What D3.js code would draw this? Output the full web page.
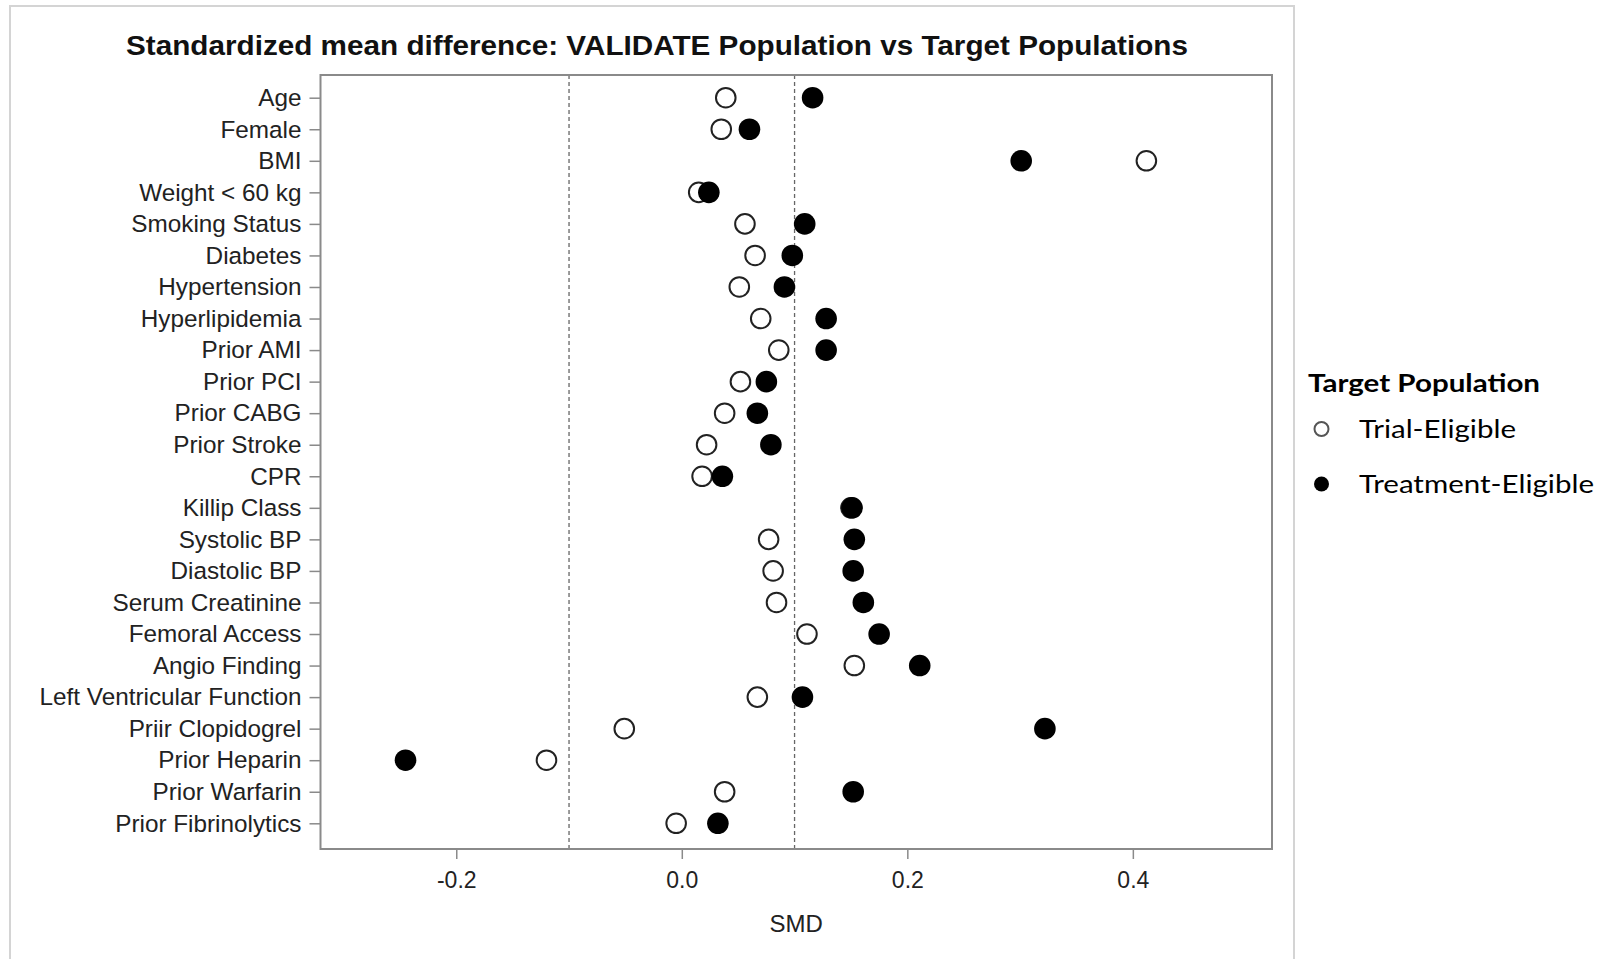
<!DOCTYPE html>
<html>
<head>
<meta charset="utf-8">
<script src="https://cdn.jsdelivr.net/npm/d3@7"></script>
<style>
  body { margin: 0; background: #fff; }
  text { font-family: "Liberation Sans", Arial, sans-serif; }
</style>
</head>
<body>
<div id="chart"></div>
<script>
var categories = ["Age", "Female", "BMI", "Weight < 60 kg", "Smoking Status", "Diabetes",
  "Hypertension", "Hyperlipidemia", "Prior AMI", "Prior PCI", "Prior CABG", "Prior Stroke",
  "CPR", "Killip Class", "Systolic BP", "Diastolic BP", "Serum Creatinine", "Femoral Access",
  "Angio Finding", "Left Ventricular Function", "Priir Clopidogrel", "Prior Heparin",
  "Prior Warfarin", "Prior Fibrinolytics"];

// Trial-Eligible (open) and Treatment-Eligible (filled)
var trialSMD = [0.039, 0.035, 0.412, 0.015, 0.056, 0.065, 0.051, 0.070, 0.086, 0.052, 0.038, 0.022,
  0.018, 0.150, 0.077, 0.081, 0.084, 0.111, 0.153, 0.067, -0.051, -0.120, 0.038, -0.005];
var treatmentSMD = [0.116, 0.060, 0.301, 0.024, 0.109, 0.098, 0.091, 0.128, 0.128, 0.075, 0.067, 0.079,
  0.036, 0.151, 0.153, 0.152, 0.161, 0.175, 0.211, 0.107, 0.322, -0.245, 0.152, 0.032];

var xTicks = [-0.2, 0.0, 0.2, 0.4];
var refLines = [-0.1, 0.1];
var legendLabels = ["Trial-Eligible", "Treatment-Eligible"];

var width = 1606, height = 959;
var frame = { left: 320.5, right: 1272, top: 75, bottom: 849 };

var svg = d3.select("#chart").append("svg")
  .attr("width", width)
  .attr("height", height);

// outer border
svg.append("rect")
  .attr("x", 10).attr("y", 6)
  .attr("width", 1284).attr("height", 960)
  .attr("fill", "none")
  .attr("stroke", "#d4d4d4")
  .attr("stroke-width", 2);

var x = d3.scaleLinear()
  .domain([-0.3204, 0.5234])
  .range([frame.left, frame.right]);

var y = d3.scalePoint()
  .domain(categories)
  .range([frame.top + 22.7, frame.bottom - 25.7]);

svg.append("text")
  .attr("x", 657)
  .attr("y", 55)
  .attr("text-anchor", "middle")
  .style("font-size", "28.5px")
  .style("font-weight", "bold")
  .attr("textLength", 1062)
  .attr("lengthAdjust", "spacingAndGlyphs")
  .attr("fill", "#111")
  .text("Standardized mean difference: VALIDATE Population vs Target Populations");

// reference lines
svg.append("g").selectAll("line")
  .data(refLines)
  .enter().append("line")
  .attr("x1", function(d) { return x(d); })
  .attr("x2", function(d) { return x(d); })
  .attr("y1", frame.top)
  .attr("y2", frame.bottom)
  .attr("stroke", "#666")
  .attr("stroke-width", 1.3)
  .attr("stroke-dasharray", "4,3");

// axes
var yAxis = svg.append("g")
  .attr("transform", "translate(" + frame.left + ",0)")
  .call(d3.axisLeft(y).tickSize(11).tickPadding(8));
yAxis.select(".domain").remove();
yAxis.selectAll("line").attr("stroke", "#8a8a8a").attr("stroke-width", 1.5);
yAxis.selectAll("text").style("font-size", "24.3px").attr("fill", "#222")
  .style("font-family", "'Liberation Sans', Arial, sans-serif");

var xAxis = svg.append("g")
  .attr("transform", "translate(0," + frame.bottom + ")")
  .call(d3.axisBottom(x).tickValues(xTicks).tickFormat(d3.format(".1f")).tickSize(10).tickPadding(13));
xAxis.select(".domain").remove();
xAxis.selectAll("line").attr("stroke", "#8a8a8a").attr("stroke-width", 1.5);
xAxis.selectAll("text").style("font-size", "23px").attr("fill", "#222")
  .style("font-family", "'Liberation Sans', Arial, sans-serif")
  .text(function(d) { return d3.format(".1f")(d).replace("−", "-"); });

svg.append("text")
  .attr("x", (frame.left + frame.right) / 2)
  .attr("y", 932)
  .attr("text-anchor", "middle")
  .style("font-size", "24px")
  .attr("fill", "#222")
  .text("SMD");

// plot frame
svg.append("rect")
  .attr("x", frame.left).attr("y", frame.top)
  .attr("width", frame.right - frame.left)
  .attr("height", frame.bottom - frame.top)
  .attr("fill", "none")
  .attr("stroke", "#8a8a8a")
  .attr("stroke-width", 2);

// markers
svg.append("g").selectAll("circle")
  .data(trialSMD)
  .enter().append("circle")
  .attr("cx", function(d) { return x(d); })
  .attr("cy", function(d, i) { return y(categories[i]); })
  .attr("r", 9.8)
  .attr("fill", "#fff")
  .attr("stroke", "#222")
  .attr("stroke-width", 2);

svg.append("g").selectAll("circle")
  .data(treatmentSMD)
  .enter().append("circle")
  .attr("cx", function(d) { return x(d); })
  .attr("cy", function(d, i) { return y(categories[i]); })
  .attr("r", 10.8)
  .attr("fill", "#000");

// legend
var legend = svg.append("g");
legend.append("text")
  .attr("x", 1308).attr("y", 392)
  .style("font-family", "Lato, 'Open Sans', sans-serif")
  .style("font-size", "25px")
  .style("font-weight", "bold")
  .attr("textLength", 232)
  .attr("lengthAdjust", "spacingAndGlyphs")
  .attr("fill", "#000")
  .text("Target Population");

var rows = legend.selectAll(".item")
  .data(legendLabels)
  .enter().append("g")
  .attr("class", "item")
  .attr("transform", function(d, i) { return "translate(0," + (429 + i * 55) + ")"; });

rows.append("circle")
  .attr("cx", 1321.5)
  .attr("cy", 0)
  .attr("r", function(d, i) { return i == 0 ? 7 : 7.5; })
  .attr("fill", function(d, i) { return i == 0 ? "#fff" : "#000"; })
  .attr("stroke", function(d, i) { return i == 0 ? "#555" : "none"; })
  .attr("stroke-width", 2);

rows.append("text")
  .attr("x", 1359)
  .attr("y", 9)
  .style("font-family", "Lato, 'Open Sans', sans-serif")
  .style("font-size", "25px")
  .attr("textLength", function(d, i) { return i == 0 ? 157 : 235; })
  .attr("lengthAdjust", "spacingAndGlyphs")
  .attr("fill", "#000")
  .text(function(d) { return d; });
</script>
</body>
</html>
